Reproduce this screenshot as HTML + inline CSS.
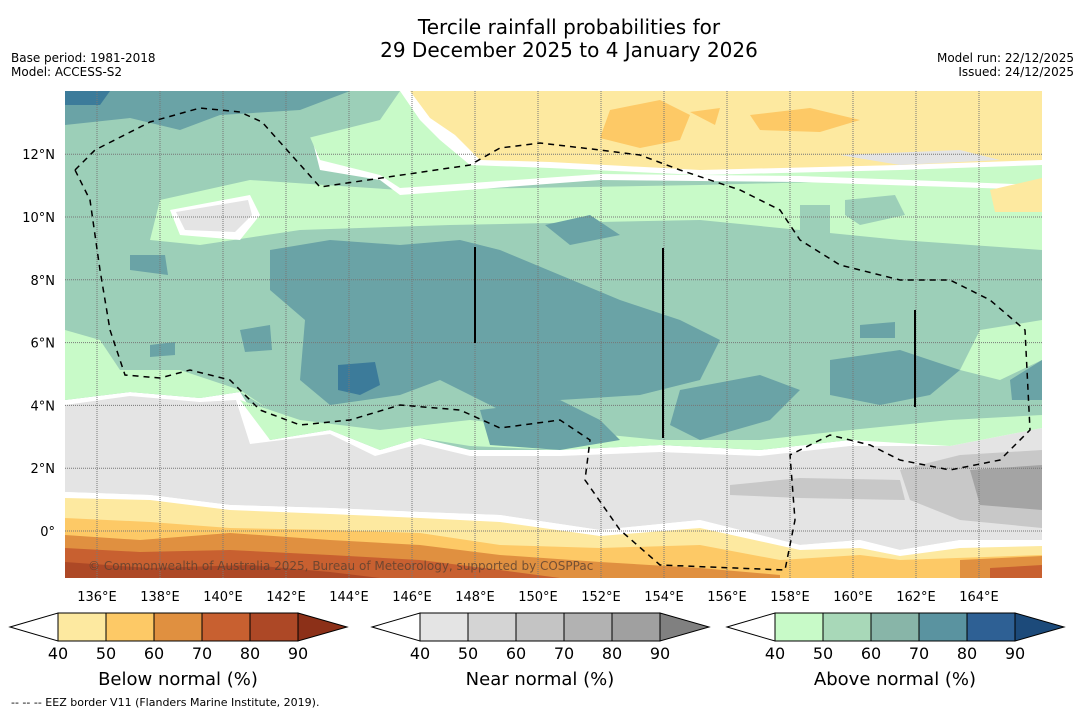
<!DOCTYPE html>
<html><head><meta charset="utf-8"><style>
body{margin:0;background:#fff;width:1085px;height:713px;overflow:hidden;font-family:"DejaVu Sans","Liberation Sans",sans-serif}
svg{display:block}
</style></head><body>
<svg id="chart" width="1085" height="713" xmlns="http://www.w3.org/2000/svg">
<text x="569" y="34" font-size="20" text-anchor="middle" fill="#000">Tercile rainfall probabilities for</text>
<text x="569" y="57" font-size="20" text-anchor="middle" fill="#000">29 December 2025 to 4 January 2026</text>
<text x="11" y="62" font-size="12">Base period: 1981-2018</text>
<text x="11" y="76" font-size="12">Model: ACCESS-S2</text>
<text x="1074" y="62" font-size="12" text-anchor="end">Model run: 22/12/2025</text>
<text x="1074" y="76" font-size="12" text-anchor="end">Issued: 24/12/2025</text>
<defs><clipPath id="mc"><rect x="65" y="91" width="977" height="487"/></clipPath></defs>
<g clip-path="url(#mc)">
<rect x="65" y="91" width="977" height="487" fill="#9ccfb8"/>
<path fill="#fff" d="M65 400 L130 392 L200 398 L240 392 L270 440 L330 430 L380 450 L420 438 L470 450 L560 450 L600 448 L660 445 L760 450 L850 440 L950 440 L1042 420 L1042 578 L65 578Z"/>
<path fill="#e4e4e4" d="M65 405 L130 396 L200 402 L236 400 L250 444 L330 434 L375 456 L420 444 L470 456 L560 456 L660 452 L760 456 L850 446 L950 446 L1042 428 L1042 540 L960 540 L900 550 L860 540 L800 545 L700 520 L600 530 L500 515 L420 512 L330 508 L230 505 L150 495 L65 492Z"/>
<path fill="#c8c8c8" d="M900 470 L960 455 L1042 450 L1042 528 L960 520 L910 500Z M730 485 L800 478 L900 480 L905 500 L800 498 L730 495Z"/>
<path fill="#a4a4a4" d="M970 470 L1042 465 L1042 510 L980 505Z"/>
<path fill="#c8fac8" d="M250 180 L400 190 L700 185 L900 180 L1042 175 L1042 250 L900 240 L700 220 L450 225 L300 230 L200 245 L150 240 L160 200Z"/>
<path fill="#c8fac8" d="M240 400 L300 420 L380 430 L470 420 L560 430 L660 440 L760 440 L850 430 L950 420 L1042 415 L1042 428 L950 446 L850 440 L760 450 L660 445 L560 450 L470 446 L420 438 L380 450 L330 430 L270 440Z"/>
<path fill="#c8fac8" d="M65 330 L100 340 L120 370 L180 370 L240 390 L270 410 L240 392 L200 398 L130 392 L65 400Z"/>
<path fill="#c8fac8" d="M980 330 L1042 320 L1042 360 L1000 380 L960 370Z"/>
<path fill="#fff" d="M300 91 L1042 91 L1042 190 L800 182 L600 180 L400 195 L380 180 L320 170 Z"/>
<path fill="#c8fac8" d="M290 91 L1042 91 L1042 185 L800 176 L600 174 L400 188 L380 175 L320 160 Z"/>
<path fill="#fff" d="M400 91 L1042 91 L1042 165 L900 170 L700 175 L550 168 L470 165 L440 140 L420 120Z"/>
<path fill="#fde9a0" d="M410 91 L1042 91 L1042 160 L900 165 L700 170 L550 162 L480 160 L455 135 L430 118Z"/>
<path fill="#fdc966" d="M610 110 L660 100 L690 115 L680 140 L640 148 L600 138Z M750 115 L810 108 L860 120 L820 132 L760 130Z M690 112 L720 108 L715 125Z"/>
<path fill="#c8fac8" d="M1000 190 L1042 180 L1042 235 L990 215Z"/>
<path fill="#fde9a0" d="M990 190 L1042 178 L1042 212 L995 212Z"/>
<path fill="#9ccfb8" d="M65 91 L400 91 L380 120 L300 140 L200 120 L130 140 L65 150Z"/>
<path fill="#6aa3a6" d="M65 91 L350 91 L300 110 L220 115 L180 130 L130 118 L65 125Z"/>
<path fill="#3c7b9a" d="M65 91 L110 91 L100 105 L65 105Z"/>
<path fill="#fff" d="M170 210 L250 195 L260 215 L240 240 L180 235Z"/>
<path fill="#e4e4e4" d="M176 212 L248 200 L252 215 L235 232 L185 230Z"/>
<path fill="#e4e4e4" d="M840 155 L960 150 L1000 160 L900 165Z"/>
<path fill="#6aa3a6" d="M270 250 L330 240 L400 245 L460 240 L500 250 L560 275 L620 300 L680 320 L720 340 L700 380 L640 395 L560 400 L500 410 L470 395 L440 380 L400 395 L330 405 L300 380 L305 320 L270 290Z"/>
<path fill="#6aa3a6" d="M480 410 L560 400 L600 420 L620 440 L560 450 L490 445Z M680 390 L760 375 L800 390 L770 420 L700 440 L670 425Z M830 360 L900 350 L960 370 L930 395 L880 405 L830 395Z M545 225 L590 215 L620 235 L570 245Z M240 330 L270 325 L272 350 L245 352Z M130 255 L165 255 L168 275 L130 270Z M150 345 L175 342 L175 355 L150 357Z M860 325 L895 322 L895 338 L860 338Z M1010 380 L1042 360 L1042 400 L1012 400Z"/>
<path fill="#3c7b9a" d="M338 365 L375 362 L380 385 L360 395 L338 390Z"/>
<path fill="#9ccfb8" d="M800 205 L830 205 L830 235 L800 240Z M845 200 L895 195 L905 215 L860 225 L845 215Z"/>
<path fill="#fff" d="M65 492 L150 495 L230 505 L330 508 L420 512 L500 515 L600 530 L700 520 L800 545 L860 540 L900 550 L960 540 L1042 540 L1042 578 L65 578Z"/>
<path fill="#fde9a0" d="M65 498 L150 500 L230 510 L330 514 L420 518 L500 522 L600 536 L700 528 L800 550 L860 548 L900 556 L960 548 L1042 546 L1042 578 L65 578Z"/>
<path fill="#fdc966" d="M65 518 L150 522 L230 528 L330 530 L420 533 L500 545 L600 548 L700 545 L780 560 L860 555 L900 560 L1042 555 L1042 578 L65 578Z"/>
<path fill="#e09040" d="M65 535 L140 540 L230 533 L330 540 L420 545 L500 555 L600 562 L700 568 L780 575 L780 578 L65 578Z M960 560 L1042 556 L1042 578 L960 578Z"/>
<path fill="#c86030" d="M65 548 L140 552 L230 550 L330 555 L420 560 L500 570 L560 578 L65 578Z M990 568 L1042 565 L1042 578 L990 578Z"/>
<path fill="#ad4826" d="M65 562 L150 568 L250 565 L330 572 L380 578 L65 578Z"/>
<g stroke="#777" stroke-dasharray="1,1" stroke-width="1" id="grid"></g>
<path fill="none" stroke="#000" stroke-width="1.5" stroke-dasharray="6,5" d="M75 170 L95 150 L150 122 L200 108 L240 112 L262 122 L320 187 L470 165 L500 148 L540 143 L600 150 L640 155 L680 170 L740 190 L780 210 L800 240 L840 265 L900 280 L950 280 L990 300 L1025 330 L1030 430 L1000 460 L950 470 L900 460 L870 445 L830 435 L790 455 L795 520 L785 570 L660 565 L620 530 L585 480 L590 440 L560 420 L500 428 L460 410 L400 405 L350 420 L300 425 L260 410 L230 380 L190 370 L160 378 L125 375 L110 330 L100 270 L90 200 L75 170"/>
<g stroke="#000" stroke-width="2">
<line x1="475" y1="247" x2="475" y2="343"/><line x1="663" y1="248" x2="663" y2="438"/><line x1="915" y1="310" x2="915" y2="407"/></g>
<text x="88" y="570" font-size="12" fill="#5a4030" fill-opacity="0.8">© Commonwealth of Australia 2025, Bureau of Meteorology, supported by COSPPac</text>
</g>
<g id="axes" font-size="13" fill="#000"></g>
<g id="bars"></g>
<text x="11" y="706" font-size="11">--  --  -- EEZ border V11 (Flanders Marine Institute, 2019).</text>
</svg>
<script>
const lonTicks=[136,138,140,142,144,146,148,150,152,154,156,158,160,162,164];
const latTicks=[0,2,4,6,8,10,12];
const cbTicks=[40,50,60,70,80,90];
const belowColors=["#fde9a0","#fdc966","#e09040","#c86030","#ad4826","#8c3018"];
const nearColors=["#e4e4e4","#d4d4d4","#c4c4c4","#b2b2b2","#a0a0a0","#808080"];
const aboveColors=["#c8fac8","#a8d8b8","#88b5a8","#5a93a0","#2e6094","#1c4a7a"];
const cbTitles=["Below normal (%)","Near normal (%)","Above normal (%)"];
const NS="http://www.w3.org/2000/svg";
const xLon=l=>97+(l-136)*31.5;
const yLat=a=>531-a*31.4;
function mk(t,p,attrs){const e=document.createElementNS(NS,t);for(const k in attrs)e.setAttribute(k,attrs[k]);p.appendChild(e);return e;}
const grid=document.getElementById('grid'),axes=document.getElementById('axes'),bars=document.getElementById('bars');
lonTicks.forEach(l=>{const g=mk('line',grid,{x1:xLon(l),x2:xLon(l),y1:91,y2:578});


const t=mk('text',axes,{x:xLon(l),y:601,'text-anchor':'middle'});t.textContent=l+'°E';

});
latTicks.forEach(a=>{const g=mk('line',grid,{x1:65,x2:1042,y1:yLat(a),y2:yLat(a)});


const t=mk('text',axes,{x:55,y:yLat(a)+5,'text-anchor':'end'});t.textContent=a===0?'0°':a+'°N';

});
[[10,belowColors],[372,nearColors],[727,aboveColors]].forEach(([x0,cols],i)=>{
const g=mk('g',bars,{});


const bx=x0+48,w=48,y=613,h=28;
mk('polygon',g,{points:`${x0},${y+h/2} ${bx},${y} ${bx},${y+h}`,fill:'#fff',stroke:'#000','stroke-width':1});
for(let k=0;k<5;k++)mk('rect',g,{x:bx+k*w,y:y,width:w,height:h,fill:cols[k],stroke:'#000','stroke-width':1});
const ex=bx+5*w;
mk('polygon',g,{points:`${ex},${y} ${ex+49},${y+h/2} ${ex},${y+h}`,fill:cols[5],stroke:'#000','stroke-width':1});
cbTicks.forEach((v,k)=>{const t=mk('text',g,{x:bx+k*w,y:659,'font-size':16,'text-anchor':'middle'});t.textContent=v;

});
const tt=mk('text',g,{x:bx+2.5*w,y:685,'font-size':18,'text-anchor':'middle'});tt.textContent=cbTitles[i];


});
</script>
</body></html>
